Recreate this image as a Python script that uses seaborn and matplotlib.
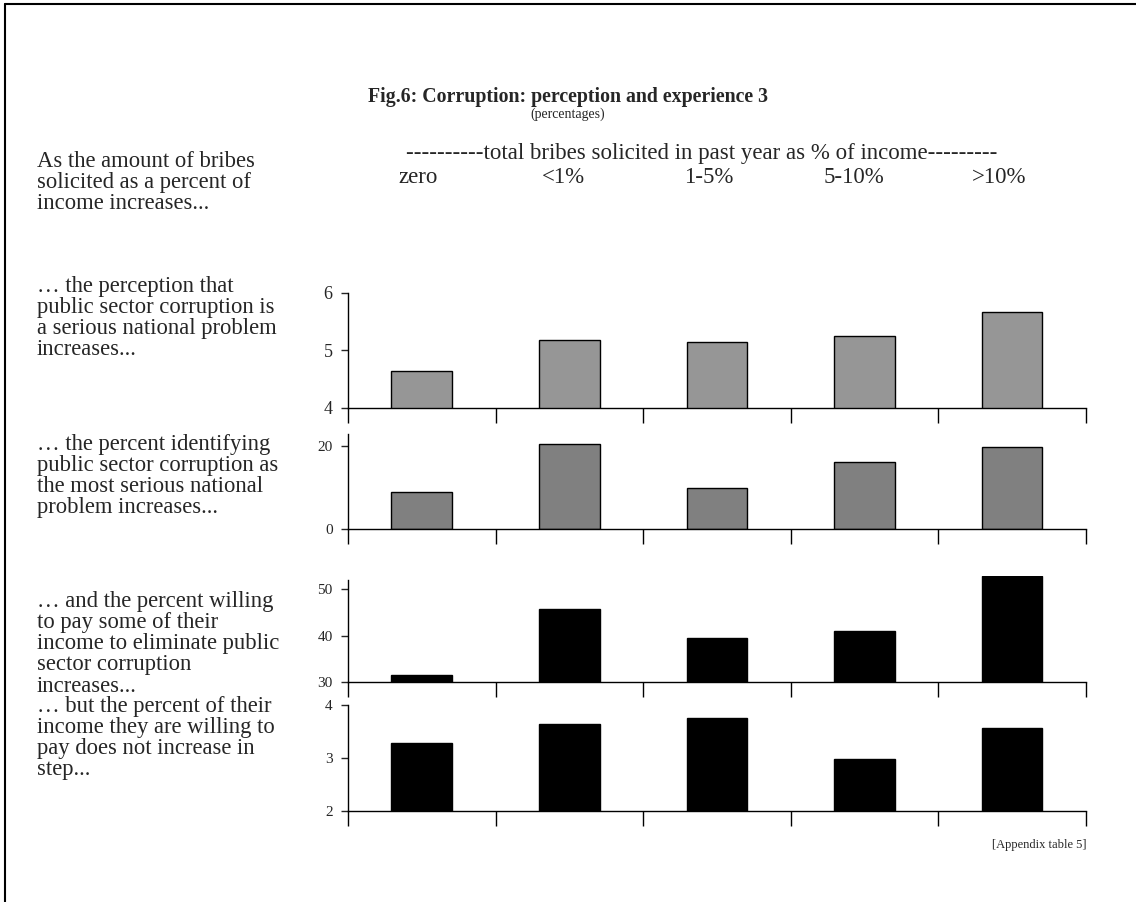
import matplotlib
matplotlib.use('Agg')
import matplotlib.pyplot as plt
import seaborn as sns

# data
categories = ['zero', '<1%', '1-5%', '5-10%', '>10%']
perception_serious = [4.64, 5.19, 5.15, 5.25, 5.67]
most_serious_pct = [9.0, 20.6, 9.8, 16.2, 19.7]
willing_to_pay_pct = [31.5, 45.7, 39.5, 40.9, 52.7]
income_share_pct = [3.28, 3.64, 3.75, 2.98, 3.56]

left_notes = [
    "As the amount of bribes\nsolicited as a percent of\nincome increases...",
    "\u2026 the perception that\npublic sector corruption is\na serious national problem\nincreases...",
    "\u2026 the percent identifying\npublic sector corruption as\nthe most serious national\nproblem increases...",
    "\u2026 and the percent willing\nto pay some of their\nincome to eliminate public\nsector corruption\nincreases...",
    "\u2026 but the percent of their\nincome they are willing to\npay does not increase in\nstep...",
]

sns.set_style('white')
plt.rcParams['font.family'] = ['Liberation Serif', 'DejaVu Serif']

fig = plt.figure(figsize=(11.36, 9.02), dpi=100)

# panels: (values, colour, ylim, yticks, spine top, tick font size, axes rect)
panels = [
    (perception_serious, '#969696', (4, 6), [4, 5, 6], 6, 13, [0.3063, 0.5477, 0.6496, 0.1275]),
    (most_serious_pct, '#808080', (0, 25), [0, 20], 23, 11, [0.3063, 0.4132, 0.6496, 0.1154]),
    (willing_to_pay_pct, '#000000', (30, 52.8), [30, 40, 50], 52, 11, [0.3063, 0.2439, 0.6496, 0.1175]),
    (income_share_pct, '#000000', (2, 4), [2, 3, 4], 4, 11, [0.3063, 0.1009, 0.6496, 0.1175]),
]

axes = []
for vals, col, ylim, yt, top, fs, rect in panels:
    ax = fig.add_axes(rect)
    sns.barplot(x=categories, y=vals, color=col, width=0.41, edgecolor='black',
                linewidth=1.0, saturation=1, ax=ax)
    ax.set_ylim(*ylim)
    ax.set_xlim(-0.5, 4.5)
    ax.set_yticks(yt)
    ax.set_yticklabels([str(t) for t in yt], fontsize=fs)
    ax.set_xticks([i - 0.5 for i in range(6)])
    ax.set_xticklabels([])
    ax.tick_params(axis='x', direction='out', length=11, width=1, bottom=True, colors='black')
    ax.tick_params(axis='y', direction='out', length=5, width=1, left=True, pad=6)
    for s in ['top', 'right']:
        ax.spines[s].set_visible(False)
    for s in ['left', 'bottom']:
        ax.spines[s].set_color('black')
        ax.spines[s].set_linewidth(1)
    ax.spines['left'].set_bounds(ylim[0], top)
    ax.set_xlabel('')
    ax.set_ylabel('')
    ax.patch.set_alpha(0)
    axes.append(ax)

# category labels above the top panel
for i, c in enumerate(categories):
    axes[0].text(i - 0.027 - 0.015 * i, (293 - 178) / 115 + 1.0, c,
                 transform=axes[0].get_xaxis_transform(), ha='center', va='center', fontsize=16.5)

fig.text(702 / 1136, 1 - 154 / 902,
         '----------total bribes solicited in past year as % of income---------',
         ha='center', va='center', fontsize=16.5)

fig.text(0.5, 1 - 97 / 902, 'Fig.6: Corruption: perception and experience 3',
         ha='center', va='center', fontsize=14.3, fontweight='bold')
fig.text(0.5, 1 - 114 / 902, '(percentages)', ha='center', va='center', fontsize=10)

note_tops = [151, 276, 434, 591, 696]
for txt, y in zip(left_notes, note_tops):
    fig.text(37 / 1136, 1 - y / 902, txt, ha='left', va='top', fontsize=16.3, linespacing=1.01)

fig.text(1087 / 1136, 1 - 845 / 902, '[Appendix table 5]', ha='right', va='center', fontsize=9)

# page frame (top and left edges)
fig.add_artist(plt.Line2D([5 / 1136, 1], [1 - 4 / 902, 1 - 4 / 902], color='black', lw=1.5))
fig.add_artist(plt.Line2D([5 / 1136, 5 / 1136], [0, 1 - 4 / 902], color='black', lw=1.5))

fig.savefig('out.png', dpi=100, facecolor='white')
